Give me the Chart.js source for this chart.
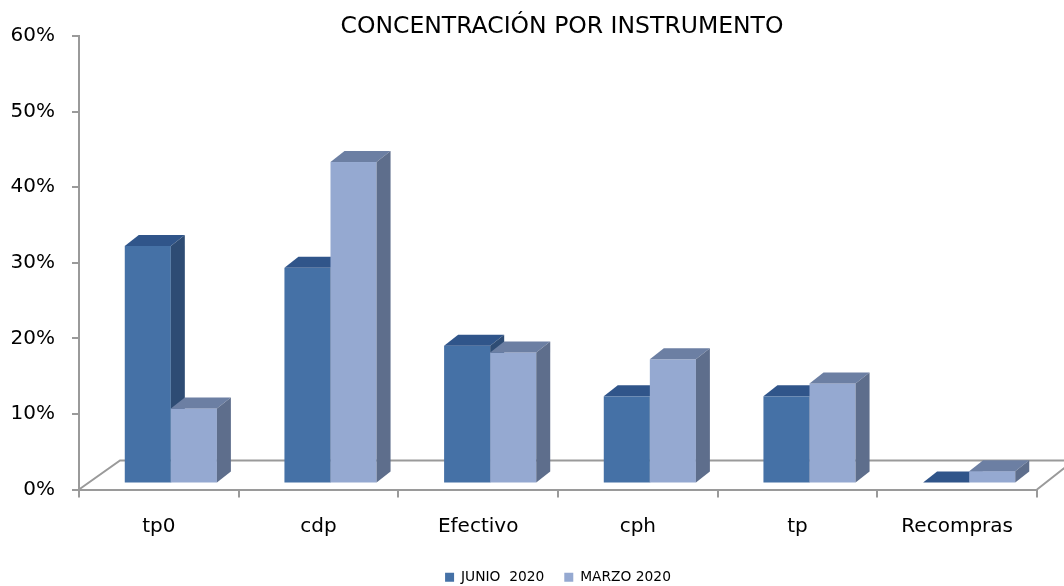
<!DOCTYPE html>
<html>
<head>
<meta charset="utf-8">
<script src="https://cdn.jsdelivr.net/npm/chart.js@4"></script>
<style>
  html, body { margin: 0; padding: 0; background: #ffffff; }
  #wrap { width: 1064px; height: 586px; }
</style>
</head>
<body>
<div id="wrap"><canvas id="c" width="1064" height="586"></canvas></div>
<script>
const titleText = 'CONCENTRACIÓN POR INSTRUMENTO';
const categories = ['tp0', 'cdp', 'Efectivo', 'cph', 'tp', 'Recompras'];
const seriesNames = ['JUNIO  2020', 'MARZO 2020'];
const junio = [31.3, 28.4, 18.1, 11.4, 11.4, 0];
const marzo = [9.8, 42.4, 17.2, 16.3, 13.1, 1.5];
const yMin = 0, yMax = 60, yStep = 10;

const FONT = 'DejaVu Sans';
const GRAY = '#9a9a9a';
const faceColors = [
  { front: '#4571a6', top: '#30558a', side: '#2e4c74' },
  { front: '#95a9d1', top: '#6c7fa3', side: '#5e6e8c' }
];

// 3D geometry constants (pixels)
const SHIFT_X = 12, SHIFT_Y = -7;     // bars sit in the middle of the floor depth
const DEPTH_X = 14, DEPTH_Y = -11;    // bar depth
const FLOOR_DX = 41, FLOOR_DY = -29;  // floor depth (left)
const FLOOR_RDX = 37;                 // floor depth (right, perspective)

const floorPlugin = {
  id: 'floor3d',
  beforeDatasetsDraw(chart) {
    const { ctx, chartArea: a } = chart;
    ctx.save();
    ctx.strokeStyle = GRAY;
    ctx.lineWidth = 2;
    ctx.beginPath();
    ctx.moveTo(a.left, a.bottom);
    ctx.lineTo(a.left + FLOOR_DX, a.bottom + FLOOR_DY);
    ctx.lineTo(a.right + FLOOR_RDX, a.bottom + FLOOR_DY);
    ctx.lineTo(a.right, a.bottom);
    ctx.stroke();
    ctx.restore();
  },
  beforeDatasetDraw() { return false; },
  afterDatasetsDraw(chart) {
    const { ctx } = chart;
    const yScale = chart.scales.y;
    const base = yScale.getPixelForValue(0) + SHIFT_Y;
    const metas = [chart.getDatasetMeta(0), chart.getDatasetMeta(1)];
    ctx.save();
    for (let i = 0; i < categories.length; i++) {
      metas.forEach((meta, d) => {
        const el = meta.data[i];
        if (!el) return;
        const { x, y, width } = el.getProps(['x', 'y', 'width'], true);
        const x0 = x - width / 2 + SHIFT_X;
        const x1 = x + width / 2 + SHIFT_X;
        const yt = y + SHIFT_Y;
        const yb = base;
        const c = faceColors[d];
        ctx.fillStyle = c.front;
        ctx.fillRect(x0, yt, x1 - x0, yb - yt);
        ctx.fillStyle = c.top;
        ctx.beginPath();
        ctx.moveTo(x0, yt);
        ctx.lineTo(x0 + DEPTH_X, yt + DEPTH_Y);
        ctx.lineTo(x1 + DEPTH_X, yt + DEPTH_Y);
        ctx.lineTo(x1, yt);
        ctx.closePath();
        ctx.fill();
        ctx.fillStyle = c.side;
        ctx.beginPath();
        ctx.moveTo(x1, yt);
        ctx.lineTo(x1 + DEPTH_X, yt + DEPTH_Y);
        ctx.lineTo(x1 + DEPTH_X, yb + DEPTH_Y);
        ctx.lineTo(x1, yb);
        ctx.closePath();
        ctx.fill();
      });
    }
    ctx.restore();
  }
};

const titlePlugin = {
  id: 'titleText',
  afterDraw(chart) {
    const { ctx } = chart;
    ctx.save();
    ctx.font = '23.5px "' + FONT + '"';
    ctx.fillStyle = '#000';
    ctx.textAlign = 'center';
    ctx.textBaseline = 'middle';
    ctx.fillText(titleText, 562, 27);
    ctx.restore();
  }
};

new Chart(document.getElementById('c'), {
  type: 'bar',
  data: {
    labels: categories,
    datasets: [
      { label: seriesNames[0], data: junio, backgroundColor: faceColors[0].front, borderWidth: 0 },
      { label: seriesNames[1], data: marzo, backgroundColor: faceColors[1].front, borderWidth: 0 }
    ]
  },
  options: {
    responsive: false,
    animation: false,
    devicePixelRatio: 1,
    layout: { padding: { left: 0, right: 27, top: 36, bottom: 0 } },
    datasets: { bar: { categoryPercentage: 0.577, barPercentage: 1 } },
    plugins: {
      title: { display: false },
      tooltip: { enabled: false },
      legend: {
        position: 'bottom',
        fullSize: false,
        maxHeight: 35.6,
        labels: {
          boxWidth: 9, boxHeight: 9, padding: 20,
          color: '#000',
          font: { family: FONT, size: 13.8 }
        }
      }
    },
    scales: {
      x: {
        afterFit(s) { s.height = 60.9; },
        grid: { display: true, drawOnChartArea: false, drawTicks: true, tickLength: 8, color: GRAY, lineWidth: 2, offset: true },
        border: { display: true, color: GRAY, width: 2 },
        ticks: { color: '#000', font: { family: FONT, size: 20 }, padding: 17 }
      },
      y: {
        min: yMin, max: yMax,
        afterFit(s) { s.width = 79; },
        grid: { display: true, drawOnChartArea: false, drawTicks: true, tickLength: 7, color: GRAY, lineWidth: 2 },
        border: { display: true, color: GRAY, width: 2 },
        ticks: {
          stepSize: yStep, color: '#000', padding: 17,
          font: { family: FONT, size: 20 },
          callback: v => v + '%'
        }
      }
    }
  },
  plugins: [floorPlugin, titlePlugin]
});
</script>
</body>
</html>
